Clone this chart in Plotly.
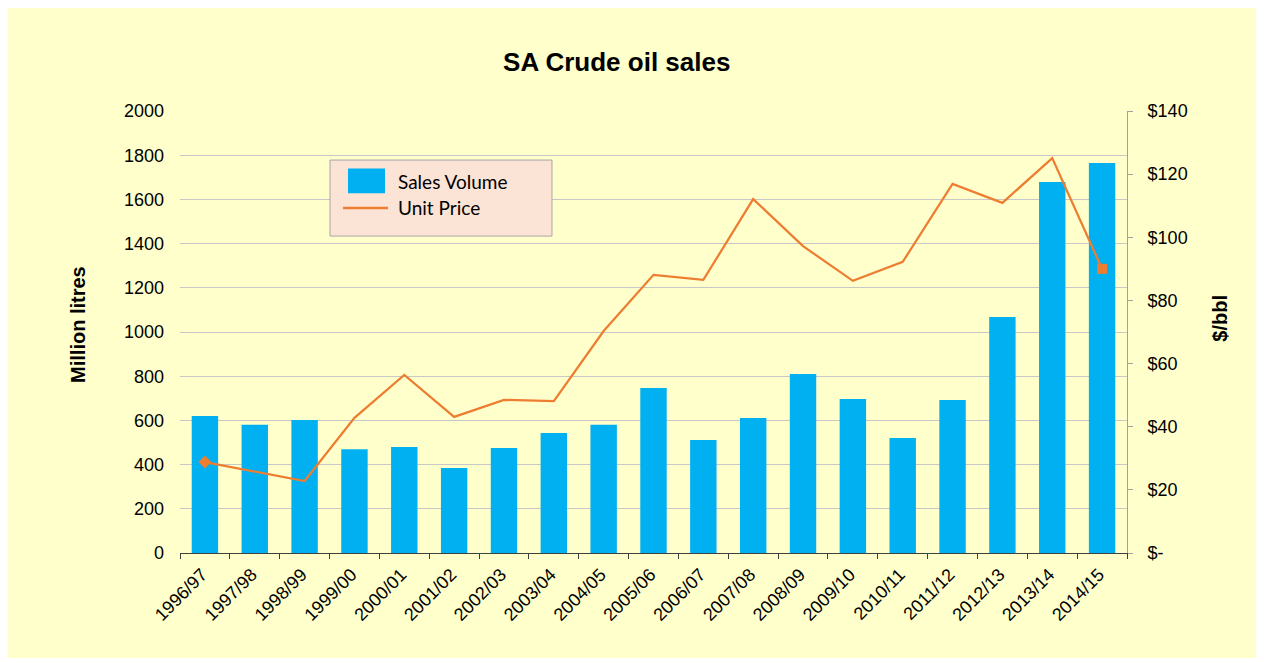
import plotly.graph_objects as go

categories = ["1996/97", "1997/98", "1998/99", "1999/00", "2000/01", "2001/02", "2002/03",
              "2003/04", "2004/05", "2005/06", "2006/07", "2007/08", "2008/09", "2009/10",
              "2010/11", "2011/12", "2012/13", "2013/14", "2014/15"]
sales_volume = [620, 580, 602, 470, 480, 385, 475, 543, 580, 747, 511, 611, 810, 697,
                520, 692, 1068, 1679, 1765]
unit_price = [28.8, 25.7, 22.8, 42.8, 56.4, 43.1, 48.5, 48.1, 70.3, 88.1, 86.5, 112.1,
              97.2, 86.2, 92.2, 116.9, 110.9, 125.1, 90.0]
left_ticks = [0, 200, 400, 600, 800, 1000, 1200, 1400, 1600, 1800, 2000]
right_ticks = [0, 20, 40, 60, 80, 100, 120, 140]
right_ticktext = ["$-", "$20", "$40", "$60", "$80", "$100", "$120", "$140"]

BAR_COLOR = "#00B0F0"
LINE_COLOR = "#ED7D31"
FONT = "Liberation Sans, Arial, sans-serif"
LEGEND_FONT = "Lato, Open Sans, sans-serif"

n = len(categories)
marker_sizes = [10] + [0] * (n - 2) + [10]
marker_symbols = ["diamond"] + ["circle"] * (n - 2) + ["square"]

fig = go.Figure()
fig.add_trace(go.Bar(
    x=categories, y=sales_volume, name="Sales Volume",
    marker=dict(color=BAR_COLOR, line=dict(width=0)),
))
fig.add_trace(go.Scatter(
    x=categories, y=unit_price, name="Unit Price", yaxis="y2",
    mode="lines+markers",
    line=dict(color=LINE_COLOR, width=2.25),
    marker=dict(color=LINE_COLOR, size=marker_sizes, symbol=marker_symbols,
                line=dict(width=0, color=LINE_COLOR), opacity=1),
))

# Manual legend box (Excel-style)
shapes = [
    dict(type="rect", xref="paper", yref="paper", x0=0.1584, x1=0.3928, y0=0.717, y1=0.889,
         fillcolor="#FBE3D6", line=dict(color="#A6A6A6", width=1), layer="above"),
    dict(type="rect", xref="paper", yref="paper", x0=0.1774, x1=0.2165, y0=0.814, y1=0.870,
         fillcolor=BAR_COLOR, line=dict(width=0), layer="above"),
    dict(type="line", xref="paper", yref="paper", x0=0.1721, x1=0.2196, y0=0.7805, y1=0.7805,
         line=dict(color=LINE_COLOR, width=2.5), layer="above"),
]
annotations = [
    dict(text="Sales Volume", xref="paper", yref="paper", x=0.2281, y=0.8416,
         xanchor="left", yanchor="middle", showarrow=False,
         font=dict(family=LEGEND_FONT, size=19, color="black")),
    dict(text="Unit Price", xref="paper", yref="paper", x=0.2281, y=0.7828,
         xanchor="left", yanchor="middle", showarrow=False,
         font=dict(family=LEGEND_FONT, size=19, color="black")),
    dict(text="<b>Million litres</b>", xref="paper", yref="paper", x=-0.1077, y=0.516,
         xanchor="center", yanchor="middle", textangle=-90, showarrow=False,
         font=dict(family=FONT, size=20, color="black")),
    dict(text="<b>$/bbl</b>", xref="paper", yref="paper", x=1.098, y=0.532,
         xanchor="center", yanchor="middle", textangle=-90, showarrow=False,
         font=dict(family=FONT, size=20, color="black")),
]

fig.update_layout(
    width=1250, height=650,
    paper_bgcolor="#FFFFCC", plot_bgcolor="#FFFFCC",
    margin=dict(l=172, r=131, t=103, b=105, autoexpand=False),
    title=dict(text="<b>SA Crude oil sales</b>", x=0.487, xanchor="center", y=0.917, yanchor="middle",
               font=dict(family=FONT, size=26, color="black")),
    font=dict(family=FONT, size=16, color="black"),
    bargap=0.47,
    showlegend=False,
    shapes=shapes,
    annotations=annotations,
    xaxis=dict(
        type="category", range=[-0.5, n - 0.5], tickangle=-45, ticks="outside", tickson="boundaries",
        ticklen=5, tickcolor="#404040", showline=True, linecolor="#404040", linewidth=1,
        showgrid=False, tickfont=dict(size=18), automargin=False,
        ticklabelshift=-3, ticklabelstandoff=3,
    ),
    yaxis=dict(
        range=[0, 2000], tickvals=left_ticks, showgrid=True, gridcolor="#C8C8C8", gridwidth=1,
        zeroline=False, showline=False, ticks="", ticklabelstandoff=15,
        tickfont=dict(size=18), automargin=False,
    ),
    yaxis2=dict(
        overlaying="y", side="right", range=[0, 140], tickvals=right_ticks,
        ticktext=right_ticktext, showgrid=False, zeroline=False,
        showline=True, linecolor="#A0A0A0", linewidth=1, ticks="outside", ticklen=5,
        tickcolor="#A0A0A0", tickfont=dict(size=18), automargin=False,
        ticklabelstandoff=11,
    ),
)

fig.write_html("out.html")
